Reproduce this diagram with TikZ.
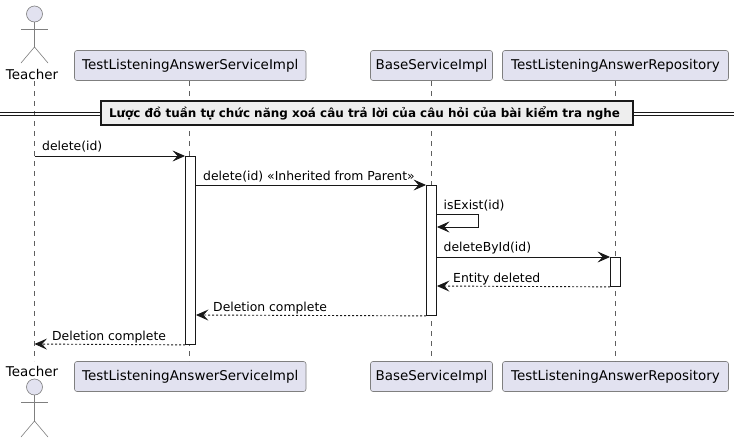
\documentclass[tikz,border=0pt]{standalone}
\usepackage{fontspec}
\setmainfont{DejaVu Sans}
\usetikzlibrary{arrows.meta}
\definecolor{partfill}{HTML}{E2E2F0}
\definecolor{partline}{HTML}{7F7F7F}
\definecolor{lifeline}{HTML}{5F5F5F}
\definecolor{msgcol}{HTML}{181818}
\definecolor{divfill}{HTML}{EEEEEE}
\tikzset{
  x=1pt,y=-1pt,
  partbox/.style={draw=partline,fill=partfill,line width=0.6pt,rounded corners=2.5pt,minimum height=30pt,inner sep=0pt,font=\fontsize{13.45}{16}\selectfont,text=black,anchor=center},
  actorname/.style={font=\fontsize{13.45}{16}\selectfont,text=black,inner sep=0pt},
  stick/.style={draw=partline,line width=0.6pt},
  lifel/.style={draw=lifeline,line width=0.6pt,dash pattern=on 5pt off 5pt},
  actbox/.style={draw=msgcol,fill=white,line width=0.9pt,minimum width=10pt,inner sep=0pt,anchor=north},
  msg/.style={draw=msgcol,line width=0.9pt,-{Stealth[length=12.5pt,width=11pt,inset=5pt]}},
  reply/.style={msg,dash pattern=on 2pt off 2pt},
  msglabel/.style={font=\fontsize{12.4}{15}\selectfont,text=black,inner sep=0pt,anchor=base west},
  divbox/.style={draw=black!90,fill=divfill,line width=1.6pt,inner sep=0pt,minimum width=532pt,minimum height=24pt,font=\fontsize{11.95}{15}\selectfont\bfseries,text=black},
  divline/.style={draw=black!90,line width=0.8pt},
}
\begin{document}
\begin{tikzpicture}
\useasboundingbox (0,0) rectangle (739,442);
\fill[white] (0,0) rectangle (739,442);
% participants
\node[actorname] (t1) at (32,74) {Teacher};
\node[actorname] (t2) at (32,371) {Teacher};
\node[partbox,minimum width=231.5pt] (a1) at (190.25,65.5) {TestListeningAnswerServiceImpl};
\node[partbox,minimum width=122pt] (b1) at (431.5,65.5) {BaseServiceImpl};
\node[partbox,minimum width=226pt] (c1) at (615.5,65.5) {TestListeningAnswerRepository};
\node[partbox,minimum width=231.5pt] (a2) at (190.25,376.5) {TestListeningAnswerServiceImpl};
\node[partbox,minimum width=122pt] (b2) at (431.5,376.5) {BaseServiceImpl};
\node[partbox,minimum width=226pt] (c2) at (615.5,376.5) {TestListeningAnswerRepository};
% lifelines
\draw[lifel] (34.5,81) -- (34.5,361);
\draw[lifel] (189.5,81) -- (189.5,361);
\draw[lifel] (431.5,81) -- (431.5,361);
\draw[lifel] (615.5,81) -- (615.5,361);
% actors
\node[circle,draw=partline,fill=partfill,line width=0.6pt,minimum size=16pt,inner sep=0pt] (h1) at (34.5,14) {};
\coordinate (n1) at (34.5,47);
\draw[stick] (h1) -- (n1);
\draw[stick] (21,29) -- (48,29);
\draw[stick] (21,63) -- (n1) -- (48,63);
\node[circle,draw=partline,fill=partfill,line width=0.6pt,minimum size=16pt,inner sep=0pt] (h2) at (34.5,387) {};
\coordinate (n2) at (34.5,421);
\draw[stick] (h2) -- (n2);
\draw[stick] (21,402) -- (48,402);
\draw[stick] (21,437) -- (n2) -- (48,437);
% divider
\node[divbox] (dv) at (367,113) {\hspace*{-5pt}Lược đồ tuần tự chức năng xoá câu trả lời của câu hỏi của bài kiểm tra nghe};
\draw[divline] (0,112) -- (dv.west |- 0,112);
\draw[divline] (0,115) -- (dv.west |- 0,115);
\draw[divline] (dv.east |- 0,112) -- (734,112);
\draw[divline] (dv.east |- 0,115) -- (734,115);
% activations
\node[actbox,minimum height=188pt] (A) at (190.5,156) {};
\node[actbox,minimum height=130pt] (B) at (431.5,185) {};
\node[actbox,minimum height=29pt] (C) at (615.5,257) {};
% messages
\coordinate (m1s) at (34.5,156);
\coordinate (m1e) at (A.north west);
\draw[msg] (m1s) -- (m1e);
\node[msglabel] at (42,150) {delete(id)};
\coordinate (m2s) at (A.east |- 0,185);
\draw[msg] (m2s) -- (B.north west);
\node[msglabel] at (203,180) {delete(id) «Inherited from Parent»};
\coordinate (m3s) at (B.east |- 0,214);
\coordinate (m3e) at (B.east |- 0,227);
\draw[msg] (m3s) -- (478.5,214) -- (478.5,227) -- (m3e);
\node[msglabel] at (443.5,209) {isExist(id)};
\coordinate (m4s) at (B.east |- 0,257);
\draw[msg] (m4s) -- (C.north west);
\node[msglabel] at (443.5,251) {deleteById(id)};
\coordinate (m5e) at (B.east |- 0,286);
\draw[reply] (C.south west) -- (m5e);
\node[msglabel] at (453,282) {Entity deleted};
\coordinate (m6e) at (A.east |- 0,315);
\draw[reply] (B.south west) -- (m6e);
\node[msglabel] at (213,311) {Deletion complete};
\coordinate (m7e) at (34.5,344);
\draw[reply] (A.south west) -- (m7e);
\node[msglabel] at (52,340) {Deletion complete};
\end{tikzpicture}
\end{document}
